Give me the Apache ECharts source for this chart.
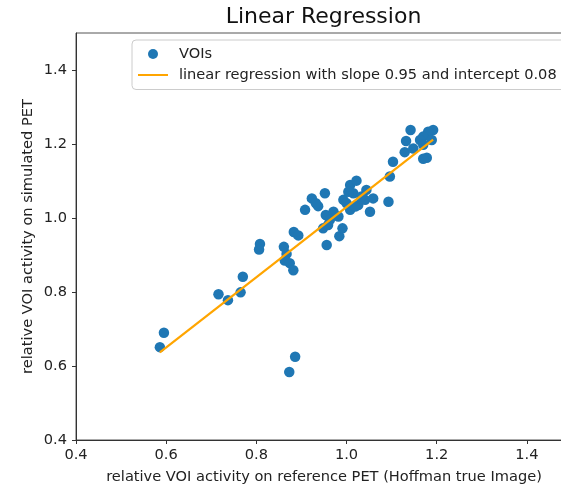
<!DOCTYPE html>
<html>
<head>
<meta charset="utf-8">
<script src="https://cdn.jsdelivr.net/npm/echarts@6/dist/echarts.min.js"></script>
<style>
  html, body { margin: 0; padding: 0; background: #fff; }
  #chart { width: 561px; height: 489px; }
</style>
</head>
<body>
<div id="chart"></div>
<script>
// measured VOI values (reference PET, simulated PET)
const voiX = [
  0.586, 0.595, 0.716, 0.737, 0.765, 0.770, 0.808, 0.806, 0.861, 0.867,
  0.863, 0.874, 0.882, 0.883, 0.893, 0.886, 0.873, 0.908, 0.923, 0.937,
  0.952, 0.948, 0.959, 0.954, 0.956, 0.984, 0.991, 0.982, 0.993, 1.008,
  1.008, 1.022, 1.015, 1.026, 1.044, 1.041, 1.059, 1.052, 1.093, 1.096,
  1.103, 1.142, 1.132, 1.129, 1.148, 1.192, 1.181, 1.170, 1.163, 1.189,
  1.178, 1.170, 1.004, 1.019, 0.963, 0.971, 1.033, 1.000, 0.932, 1.170
]
const voiY = [
  0.651, 0.690, 0.794, 0.778, 0.799, 0.841, 0.930, 0.915, 0.922, 0.903,
  0.885, 0.878, 0.859, 0.962, 0.953, 0.625, 0.584, 1.022, 1.053, 1.032,
  1.067, 0.972, 0.981, 1.008, 0.927, 0.951, 0.972, 1.004, 1.049, 1.022,
  1.089, 1.101, 1.067, 1.035, 1.076, 1.049, 1.053, 1.017, 1.044, 1.112,
  1.152, 1.238, 1.208, 1.178, 1.188, 1.238, 1.233, 1.220, 1.211, 1.211,
  1.163, 1.160, 1.071, 1.031, 0.995, 1.017, 1.058, 1.040, 1.040, 1.198
]

// regression line end points
const fitX = [0.586, 1.192]
const fitY = [0.637, 1.212]

const xTicks = [0.4, 0.6, 0.8, 1.0, 1.2, 1.4]
const yTicks = [0.4, 0.6, 0.8, 1.0, 1.2, 1.4]

const font = 'DejaVu Sans'

const myChart = echarts.init(document.getElementById('chart'))

const axisCommon = {
  type: 'value',
  min: 0.4,
  max: 1.5,
  nameLocation: 'middle',
  nameMoveOverlap: false,
  nameTextStyle: { fontFamily: font, fontSize: 14.6, color: '#222' },
  axisLine: { show: true, onZero: false, lineStyle: { color: '#333', width: 1 } },
  axisTick: { show: true, inside: false, length: 4, lineStyle: { color: '#333' } },
  splitLine: { show: false },
  axisLabel: {
    fontFamily: font,
    fontSize: 14.6,
    color: '#222',
    formatter: (v) => v.toFixed(1)
  }
}

const option = {
  animation: false,
  backgroundColor: '#fff',
  title: {
    text: 'Linear Regression',
    left: 323.5,
    top: 6,
    padding: 0,
    textAlign: 'center',
    textStyle: { fontFamily: font, fontSize: 22, fontWeight: 'normal', color: '#111' }
  },
  grid: {
    left: 76,
    width: 496,
    top: 33,
    bottom: 49,
    outerBoundsMode: 'none',
    containLabel: false,
    show: true,
    borderColor: '#555',
    borderWidth: 1,
    backgroundColor: 'transparent'
  },
  legend: {
    orient: 'vertical',
    left: 132,
    top: 40,
    padding: [6.5, 12, 7, 5],
    itemWidth: 30,
    itemHeight: 10,
    itemGap: 6,
    backgroundColor: 'rgba(255,255,255,0.8)',
    borderColor: '#ccc',
    borderWidth: 1,
    borderRadius: 4,
    textStyle: { fontFamily: font, fontSize: 14.6, color: '#222', lineHeight: 15, padding: [0, 0, 0, 6] },
    data: [
      { name: 'VOIs', icon: 'circle' },
      { name: 'linear regression with slope 0.95 and intercept 0.08', itemStyle: { opacity: 0 } }
    ]
  },
  xAxis: {
    ...axisCommon,
    name: 'relative VOI activity on reference PET (Hoffman true Image)',
    nameGap: 30,
    axisLabel: { ...axisCommon.axisLabel, margin: 8, customValues: xTicks },
    axisTick: { ...axisCommon.axisTick, customValues: xTicks }
  },
  yAxis: {
    ...axisCommon,
    name: 'relative VOI activity on simulated PET',
    nameGap: 40,
    axisLabel: { ...axisCommon.axisLabel, margin: 9, customValues: yTicks },
    axisTick: { ...axisCommon.axisTick, customValues: yTicks }
  },
  series: [
    {
      name: 'VOIs',
      type: 'scatter',
      data: voiX.map((x, i) => [x, voiY[i]]),
      symbolSize: 10.5,
      itemStyle: { color: '#1f77b4', opacity: 1 },
      z: 2
    },
    {
      name: 'linear regression with slope 0.95 and intercept 0.08',
      type: 'line',
      data: fitX.map((x, i) => [x, fitY[i]]),
      symbol: 'none',
      showSymbol: false,
      lineStyle: { color: '#ffa500', width: 2.2 },
      itemStyle: { color: '#ffa500' },
      z: 3
    }
  ]
}

myChart.setOption(option)
</script>
</body>
</html>
